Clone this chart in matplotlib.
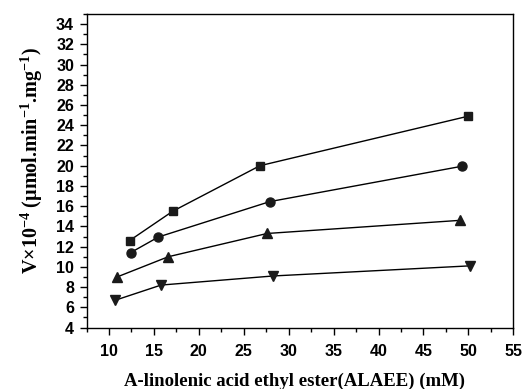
import matplotlib
matplotlib.use("Agg")
import matplotlib.pyplot as plt
from matplotlib.ticker import MultipleLocator

plt.rcParams["mathtext.fontset"] = "custom"
plt.rcParams["mathtext.rm"] = "Liberation Serif:bold"
plt.rcParams["mathtext.bf"] = "Liberation Serif:bold"
plt.rcParams["mathtext.it"] = "Liberation Serif:bold"

# ALAEE concentration (mM) and rate V x 10^-4 for each series
x_sq = [12.3, 17.1, 26.8, 50.0]
y_sq = [12.6, 15.5, 20.0, 24.9]

x_ci = [12.4, 15.5, 27.9, 49.3]
y_ci = [11.4, 12.95, 16.45, 19.95]

x_up = [10.9, 16.6, 27.6, 49.1]
y_up = [9.0, 11.0, 13.3, 14.6]

x_dn = [10.7, 15.8, 28.3, 50.2]
y_dn = [6.7, 8.2, 9.1, 10.1]

series = [
    (x_sq, y_sq, "s", 6),
    (x_ci, y_ci, "o", 6.5),
    (x_up, y_up, "^", 7),
    (x_dn, y_dn, "v", 7),
]

fig = plt.figure(figsize=(5.23, 3.89), dpi=100)
ax = fig.add_axes([0.1654, 0.158, 0.816, 0.806])

for xs, ys, m, ms in series:
    ax.plot(xs, ys, color="black", lw=1.0, marker=m, markersize=ms,
            markerfacecolor="#1a1a1a", markeredgecolor="#1a1a1a")

ax.set_xlim(7.5, 55)
ax.set_ylim(4, 35)
ax.xaxis.set_minor_locator(MultipleLocator(2.5))
ax.yaxis.set_minor_locator(MultipleLocator(1))
ax.set_xticks(range(10, 56, 5))
ax.set_yticks(range(4, 35, 2))

ax.tick_params(which="major", direction="out", length=5, width=1)
ax.tick_params(which="minor", direction="out", length=3, width=1)
ax.tick_params(axis="x", pad=7)
ax.tick_params(axis="y", pad=4)
for lab in ax.get_xticklabels() + ax.get_yticklabels():
    lab.set_fontfamily("Liberation Sans")
    lab.set_fontweight("bold")
    lab.set_fontsize(11.5)
for s in ax.spines.values():
    s.set_linewidth(1.0)

fig.text(295 / 523, 3 / 389, "A-linolenic acid ethyl ester(ALAEE) (mM)",
         family="Liberation Serif", fontweight="bold", fontsize=13.5,
         ha="center", va="baseline")
fig.text(32 / 523, 1 - 160 / 389,
         "V\u00d710$^{-4}$ (\u03bcmol.min$^{-1}$.mg$^{-1}$)",
         family="Liberation Serif", fontweight="bold", fontsize=14.5,
         rotation=90, ha="center", va="center")

fig.savefig("out.png", dpi=100)
